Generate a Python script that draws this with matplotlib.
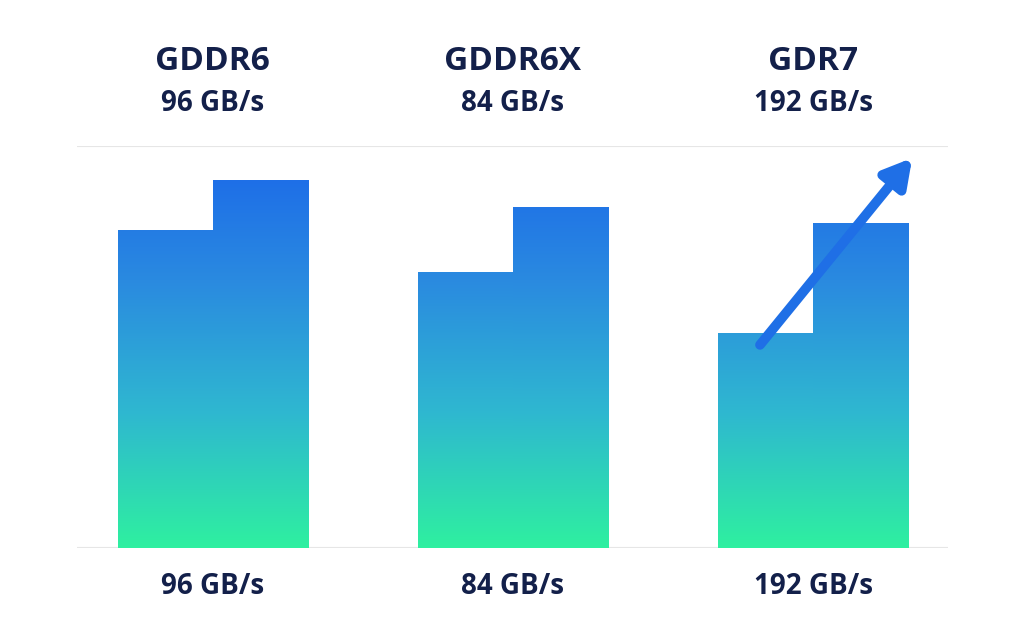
import matplotlib
matplotlib.use("Agg")
import matplotlib.pyplot as plt
import numpy as np
from matplotlib.colors import LinearSegmentedColormap
from matplotlib.patches import Rectangle

groups = ["GDDR6", "GDDR6X", "GDR7"]
speeds = ["96 GB/s", "84 GB/s", "192 GB/s"]
left_vals = [79.1, 68.7, 53.5]
right_vals = [91.5, 84.8, 80.8]

plt.rcParams['font.family'] = ['Open Sans', 'DejaVu Sans']
fig = plt.figure(figsize=(10.24, 6.4), dpi=100)
ax = fig.add_axes([0.075, 0.144, 0.851, 0.628])
ax.set_xlim(-0.453, 2.45)
ax.set_ylim(0, 100)
ax.axis('off')

cmap = LinearSegmentedColormap.from_list("g", ["#2ef0a0", "#2fb8d0", "#2a8ae0", "#1a66ea"])
grad = np.linspace(0, 1, 256).reshape(-1, 1)
w = 0.317
x = np.arange(len(groups))
for i in range(len(groups)):
    for xs, v in [(x[i] - w, left_vals[i]), (x[i], right_vals[i])]:
        r = Rectangle((xs, 0), w, v, facecolor='none', edgecolor='none')
        ax.add_patch(r)
        im = ax.imshow(grad, extent=(-0.453, 2.45, 0, 100), origin='lower', cmap=cmap, aspect='auto', zorder=2)
        im.set_clip_path(r)

for yv in [0, 100]:
    ax.axhline(yv, color='#e6e6e6', lw=1.5, zorder=1)

navy = '#13204a'
for i in range(len(groups)):
    ax.text(x[i], 121, groups[i], ha='center', va='center', fontsize=24, fontweight='bold', color=navy, clip_on=False)
    ax.text(x[i], 110.5, speeds[i], ha='center', va='center', fontsize=20, fontweight='bold', color=navy, clip_on=False)
    ax.text(x[i], -9.5, speeds[i], ha='center', va='center', fontsize=20, fontweight='bold', color=navy, clip_on=False)

ax.annotate('', xy=(2.33, 97.0), xytext=(1.823, 50.5),
            arrowprops=dict(arrowstyle='-|>,head_length=1.6,head_width=0.9', color='#1f6fe6', lw=7, shrinkA=0, shrinkB=0),
            zorder=5, annotation_clip=False)

fig.savefig("out.png", dpi=100, facecolor='white')
